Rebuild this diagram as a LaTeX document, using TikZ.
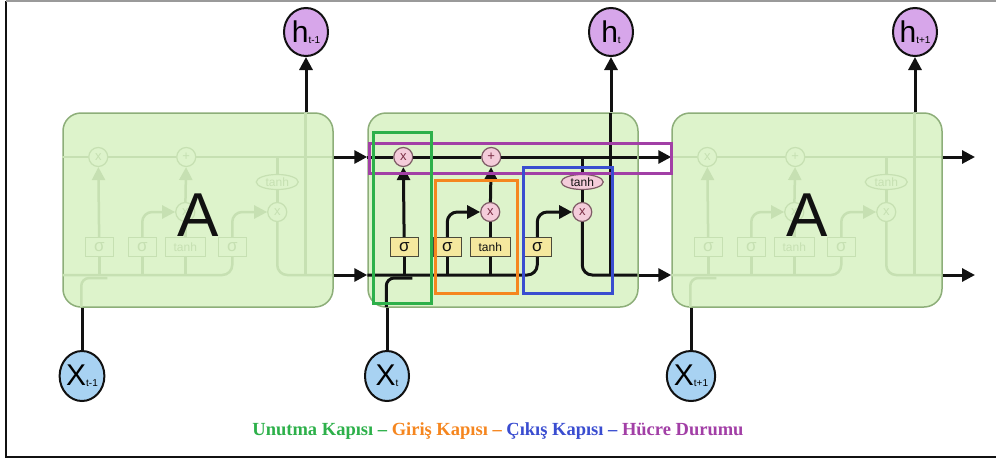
\documentclass[tikz,border=0pt]{standalone}
\usepackage{fontspec}
\setmainfont{Liberation Serif}
\setsansfont{Liberation Sans}
\usepackage{tikz}
\usetikzlibrary{arrows.meta,positioning,shapes.geometric,calc}
\definecolor{ink}{HTML}{111111}
\definecolor{cellfill}{HTML}{DDF3CB}
\definecolor{celledge}{HTML}{8DAE79}
\definecolor{ghostln}{HTML}{C6E0B2}
\definecolor{gatefill}{HTML}{F5E89E}
\definecolor{gateedge}{HTML}{4A4A3A}
\definecolor{opfill}{HTML}{F4CCDA}
\definecolor{opedge}{HTML}{7E5C66}
\definecolor{optext}{HTML}{7A2E44}
\definecolor{hfill}{HTML}{D7A6EA}
\definecolor{xfill}{HTML}{A8D2F2}
\definecolor{forgetc}{HTML}{2DB04A}
\definecolor{inputc}{HTML}{F5861F}
\definecolor{outputc}{HTML}{3A4DD0}
\definecolor{statec}{HTML}{A23FA6}
\definecolor{framegray}{HTML}{9A9A9A}
\newcommand{\tsub}[1]{\raisebox{-1pt}{\fontsize{10}{10}\selectfont #1}}
\tikzset{
  cell/.style={draw=celledge,fill=cellfill,line width=1.5pt,rounded corners=18pt,
               minimum width=270pt,minimum height=194pt,inner sep=0pt},
  wire/.style={draw=ink,line width=3pt},
  wirearr/.style={wire,-{Triangle[length=13pt,width=13pt]}},
  gatebox/.style={draw=gateedge,fill=gatefill,text=ink,line width=1.4pt,
                  minimum width=28pt,minimum height=19pt,inner sep=1pt,
                  font=\sffamily\fontsize{17}{17}\selectfont},
  tanhbox/.style={gatebox,minimum width=40pt,font=\sffamily\fontsize{12}{12}\selectfont},
  opnode/.style={circle,draw=opedge,fill=opfill,text=optext,line width=1.2pt,
                 minimum size=19pt,inner sep=0pt,font=\sffamily\fontsize{13}{13}\selectfont},
  tanhell/.style={opnode,ellipse,minimum width=42pt,minimum height=15pt,text=ink,
                  font=\sffamily\fontsize{12}{12}\selectfont},
  ghost/.style={
    wire/.style={draw=ghostln,line width=2.5pt},
    gatebox/.style={draw=ghostln,fill=cellfill,text=ghostln,line width=1.4pt,
                    minimum width=28pt,minimum height=19pt,inner sep=1pt,
                    font=\sffamily\fontsize{17}{17}\selectfont},
    opnode/.style={circle,draw=ghostln,fill=cellfill,text=ghostln,line width=1.2pt,
                   minimum size=19pt,inner sep=0pt,font=\sffamily\fontsize{13}{13}\selectfont},
    tanhell/.style={opnode,ellipse,minimum width=42pt,minimum height=15pt,
                    font=\sffamily\fontsize{12}{12}\selectfont}},
  hnode/.style={ellipse,draw=ink,fill=hfill,line width=2pt,minimum width=44pt,
                minimum height=48pt,inner sep=0pt,font=\sffamily\fontsize{30}{30}\selectfont},
  xnode/.style={hnode,fill=xfill,minimum height=50pt},
  bigA/.style={font=\sffamily\fontsize{62}{62}\selectfont,text=ink},
  gatemark/.style={line width=3pt},
  caption/.style={font=\bfseries\fontsize{18.5}{18.5}\selectfont},
  pics/lstmcore/.style={code={
    \node[opnode] (-fx) at (36,157) {x};
    \node[opnode] (-add) at (124,157) {+};
    \node[gatebox] (-sf) at (37,247) {σ};
    \node[gatebox] (-si) at (80,247) {σ};
    \node[tanhbox] (-tc) at (123,247) {tanh};
    \node[gatebox] (-so) at (170,247) {σ};
    \node[opnode] (-ix) at (123,212) {x};
    \node[tanhell] (-th) at (215,182) {tanh};
    \node[opnode] (-ox) at (215,212) {x};
    % cell state
    \draw[wire] (0,157) -- (-fx) -- (-add) -- (270,157);
    \draw[wirearr] (-sf) -- (-fx);
    \draw[wirearr,rounded corners=10pt] (-si) |- (-ix);
    \draw[wire] (-tc) -- (-ix);
    \draw[wirearr] (-ix) -- (-add);
    \draw[wirearr,rounded corners=10pt] (-so) |- (-ox);
    \draw[wire] (-th |- 0,157) -- (-th);
    \draw[wire] (-th) -- (-ox);
    \draw[wire,rounded corners=10pt] (-ox) |- (270,275);
    % hidden state
    \draw[wire,rounded corners=10pt] (0,275) -| (-so);
    \draw[wire] (-sf) -- (-sf |- 0,275);
    \draw[wire] (-si) -- (-si |- 0,275);
    \draw[wire] (-tc) -- (-tc |- 0,275);
    \draw[wire] (243,275) -- (243,113);
    \draw[wire,rounded corners=8pt] (19,307) |- (45,278);
  }}
}
\begin{document}
\begin{tikzpicture}[x=1pt,y=-1pt]
  \useasboundingbox (0,0) rectangle (996,461);
  \draw[ink,line width=2pt] (6,1) -- (6,457) -- (996,457);
  \draw[framegray,line width=1.5pt] (6,1) -- (996,1);

  \node[cell] (c1) at (198,210) {};
  \node[cell] (c2) at (503,210) {};
  \node[cell] (c3) at (807,210) {};
  \coordinate (cs) at (0,157);
  \coordinate (hb) at (0,275);

  \pic[ghost] (g1) at (c1.west |- 0,0) {lstmcore};
  \pic[ghost] (g3) at (c3.west |- 0,0) {lstmcore};
  \node[bigA,yshift=-5pt] (a1) at (c1) {A};
  \node[bigA,yshift=-5pt] (a3) at (c3) {A};
  \pic (core) at (c2.west |- 0,0) {lstmcore};

  \node[hnode] (h1) at (306,32) {h\tsub{t-1}};
  \node[hnode] (h2) at (611,32) {h\tsub{t}};
  \node[hnode] (h3) at (915,32) {h\tsub{t+1}};
  \node[xnode] (x1) at (82,376) {X\tsub{t-1}};
  \node[xnode] (x2) at (387,376) {X\tsub{t}};
  \node[xnode] (x3) at (691,376) {X\tsub{t+1}};
  \coordinate (csend) at (975,157);
  \coordinate (hbend) at (975,275);

  \draw[wirearr] (c1.east |- cs) -- (c2.west |- cs);
  \draw[wirearr] (c1.east |- hb) -- (c2.west |- hb);
  \draw[wirearr] (c2.east |- cs) -- (c3.west |- cs);
  \draw[wirearr] (c2.east |- hb) -- (c3.west |- hb);
  \draw[wirearr] (c3.east |- cs) -- (csend);
  \draw[wirearr] (c3.east |- hb) -- (hbend);
  \foreach \i in {1,2,3} {
    \draw[wirearr] (h\i |- c\i.north) -- (h\i);
    \draw[wire] (x\i) -- (x\i |- c\i.south);
  }

  % gates
  \draw[gatemark,statec] (369,143) rectangle (671,173);
  \draw[gatemark,forgetc] (373,132) rectangle (431,303);
  \draw[gatemark,inputc] (435,180) rectangle (517,293);
  \draw[gatemark,outputc] (523,167) rectangle (612,293);

  \node[caption] (cap) at (498,431) {\textcolor{forgetc}{Unutma Kapısı –}
    \textcolor{inputc}{Giriş Kapısı –} \textcolor{outputc}{Çıkış Kapısı –}
    \textcolor{statec}{Hücre Durumu}};
\end{tikzpicture}
\end{document}
